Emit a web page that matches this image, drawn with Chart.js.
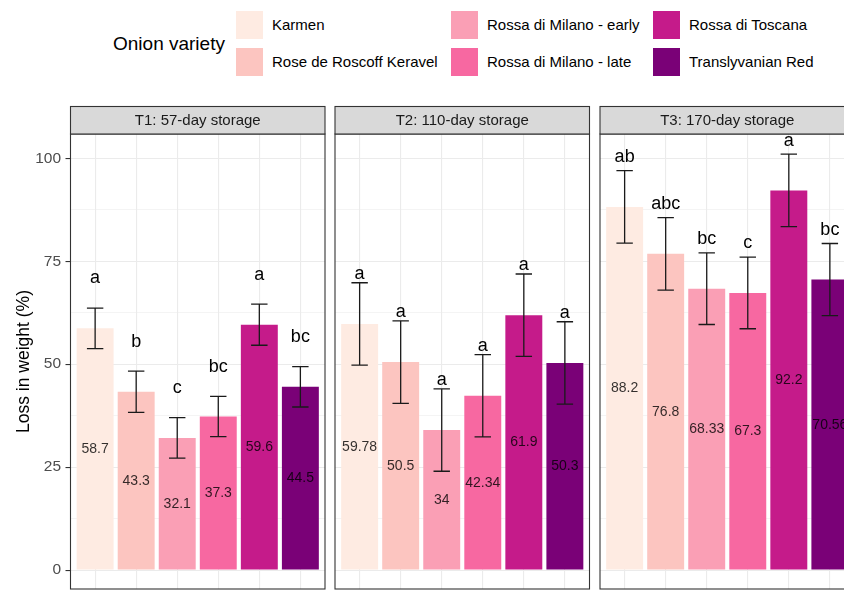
<!DOCTYPE html>
<html>
<head>
<meta charset="utf-8">
<script src="https://cdn.jsdelivr.net/npm/chart.js@4.4.1/dist/chart.umd.min.js"></script>
<style>
  html, body { margin: 0; padding: 0; width: 844px; height: 592px; overflow: hidden; background: #fff; }
  #wrap { position: relative; width: 880px; height: 592px; font-family: "Liberation Sans", Arial, sans-serif; }
  .panel { position: absolute; top: 0; }
  .legend-title { position: absolute; font-size: 19px; line-height: 22px; color: #000; white-space: nowrap; }
  .key { position: absolute; width: 27px; height: 28px; }
  .key-label { position: absolute; font-size: 15px; line-height: 18px; color: #000; white-space: nowrap; }
</style>
</head>
<body>
<div id="wrap">
  <div id="legend"></div>
  <canvas id="p1" class="panel" width="331" height="592" style="left:0px"></canvas>
  <canvas id="p2" class="panel" width="265" height="592" style="left:330px"></canvas>
  <canvas id="p3" class="panel" width="265" height="592" style="left:595px"></canvas>
</div>
<script>
// Onion varieties and their fills (RdPu)
const varieties = ['Karmen', 'Rose de Roscoff Keravel', 'Rossa di Milano - early',
                   'Rossa di Milano - late', 'Rossa di Toscana', 'Translyvanian Red'];
const fillColors = ['#FEEBE2', '#FCC5C0', '#FA9FB5', '#F768A1', '#C51B8A', '#7A0177'];

// Storage periods (one facet each)
const storageTitles = ['T1: 57-day storage', 'T2: 110-day storage', 'T3: 170-day storage'];

// Mean loss in weight (%)
const lossT1 = [58.7, 43.3, 32.1, 37.3, 59.6, 44.5];
const lossT2 = [59.78, 50.5, 34, 42.34, 61.9, 50.3];
const lossT3 = [88.2, 76.8, 68.33, 67.3, 92.2, 70.56];

// Error bar half-lengths
const errT1 = [4.9, 5.0, 4.9, 4.9, 5.0, 4.9];
const errT2 = [10.0, 10.0, 10.0, 10.0, 10.0, 10.0];
const errT3 = [8.8, 8.8, 8.7, 8.7, 8.8, 8.75];

// Significance groups
const lettersT1 = ['a', 'b', 'c', 'bc', 'a', 'bc'];
const lettersT2 = ['a', 'a', 'a', 'a', 'a', 'a'];
const lettersT3 = ['ab', 'abc', 'bc', 'c', 'a', 'bc'];

// Y axis ticks
const yMajorTicks = [0, 25, 50, 75, 100];

const FONT = '"Liberation Sans", Arial, sans-serif';
const Y_MIN = -4.6, Y_MAX = 105.9;
const STRIP_TOP = 106.5;
const LETTER_OFFSET = 10.9;
const CAP_HALF = 0.2;

const yMinorTicks = yMajorTicks.slice(1).map((v, i) => (v + yMajorTicks[i]) / 2);
const yAllTicks = yMajorTicks.concat(yMinorTicks).sort((a, b) => a - b);

const facets = [
  { id: 'p1', title: storageTitles[0], loss: lossT1, err: errT1, letters: lettersT1, yWidth: 70.5, padRight: 6, showY: true },
  { id: 'p2', title: storageTitles[1], loss: lossT2, err: errT2, letters: lettersT2, yWidth: 5, padRight: 5.5, showY: false },
  { id: 'p3', title: storageTitles[2], loss: lossT3, err: errT3, letters: lettersT3, yWidth: 5, padRight: 5.5, showY: false }
];

// Legend
(function buildLegend() {
  const lg = document.getElementById('legend');
  const t = document.createElement('div');
  t.className = 'legend-title';
  t.textContent = 'Onion variety';
  t.style.left = '113px';
  t.style.top = '33px';
  lg.appendChild(t);
  const colX = [235.5, 450.5, 652.5];
  const rowY = [10.5, 48];
  varieties.forEach((name, i) => {
    const kx = colX[Math.floor(i / 2)], ky = rowY[i % 2];
    const k = document.createElement('div');
    k.className = 'key';
    k.style.left = kx + 'px';
    k.style.top = ky + 'px';
    k.style.background = fillColors[i];
    lg.appendChild(k);
    const l = document.createElement('div');
    l.className = 'key-label';
    l.textContent = name;
    l.style.left = (kx + 36.5) + 'px';
    l.style.top = (ky + 14 - 9) + 'px';
    lg.appendChild(l);
  });
})();

function facetPlugin(f) {
  return {
    id: 'facet_' + f.id,
    afterDatasetsDraw(chart) {
      const { ctx, scales: { x, y } } = chart;
      ctx.save();
      // error bars
      ctx.strokeStyle = '#1a1a1a';
      ctx.lineWidth = 1.3;
      f.loss.forEach((v, i) => {
        const xc = x.getPixelForValue(i + 1);
        const xl = x.getPixelForValue(i + 1 - CAP_HALF);
        const xr = x.getPixelForValue(i + 1 + CAP_HALF);
        const yt = y.getPixelForValue(v + f.err[i]);
        const yb = y.getPixelForValue(v - f.err[i]);
        ctx.beginPath();
        ctx.moveTo(xl, yt); ctx.lineTo(xr, yt);
        ctx.moveTo(xc, yt); ctx.lineTo(xc, yb);
        ctx.moveTo(xl, yb); ctx.lineTo(xr, yb);
        ctx.stroke();
      });
      // mean values inside bars
      ctx.font = '14px ' + FONT;
      ctx.textAlign = 'center';
      ctx.textBaseline = 'middle';
      ctx.fillStyle = 'rgba(0,0,0,0.8)';
      f.loss.forEach((v, i) => {
        ctx.fillText(String(v), x.getPixelForValue(i + 1), y.getPixelForValue(v / 2));
      });
      // group letters
      ctx.font = '18px ' + FONT;
      ctx.textBaseline = 'alphabetic';
      ctx.fillStyle = '#000';
      f.letters.forEach((t, i) => {
        ctx.fillText(t, x.getPixelForValue(i + 1), y.getPixelForValue(f.loss[i] + LETTER_OFFSET));
      });
      ctx.restore();
    },
    afterDraw(chart) {
      const { ctx, chartArea: a } = chart;
      ctx.save();
      // panel border
      ctx.strokeStyle = '#333';
      ctx.lineWidth = 1.1;
      ctx.strokeRect(a.left, a.top, a.right - a.left, a.bottom - a.top);
      // strip
      ctx.fillStyle = '#D9D9D9';
      ctx.fillRect(a.left, STRIP_TOP, a.right - a.left, a.top - STRIP_TOP);
      ctx.strokeRect(a.left, STRIP_TOP, a.right - a.left, a.top - STRIP_TOP);
      ctx.fillStyle = '#1a1a1a';
      ctx.font = '15px ' + FONT;
      ctx.textAlign = 'center';
      ctx.textBaseline = 'middle';
      ctx.fillText(f.title, (a.left + a.right) / 2, (STRIP_TOP + a.top) / 2 + 0.5);
      ctx.restore();
    }
  };
}

facets.forEach(f => {
  new Chart(document.getElementById(f.id), {
    type: 'bar',
    data: {
      datasets: [{
        label: f.title,
        data: f.loss.map((v, i) => ({ x: i + 1, y: v })),
        backgroundColor: fillColors,
        borderWidth: 0,
        barPercentage: 0.9,
        categoryPercentage: 1.0
      }]
    },
    options: {
      responsive: false,
      animation: false,
      devicePixelRatio: 1,
      layout: { autoPadding: false, padding: { left: 0, right: f.padRight, top: 134, bottom: 3 } },
      plugins: { legend: { display: false }, tooltip: { enabled: false } },
      scales: {
        x: {
          type: 'linear',
          min: 0.4, max: 6.6,
          offset: false,
          afterBuildTicks: s => { s.ticks = varieties.map((_, i) => ({ value: i + 1 })); },
          afterFit: s => { s.height = 0; s.paddingLeft = 0; s.paddingRight = 0; },
          ticks: { display: false },
          border: { display: false },
          grid: { color: '#EBEBEB', lineWidth: 1.1, drawTicks: false, offset: false }
        },
        y: {
          min: Y_MIN, max: Y_MAX,
          afterBuildTicks: s => { s.ticks = yAllTicks.map(v => ({ value: v })); },
          afterFit: s => { s.width = f.yWidth; s.paddingTop = 0; s.paddingBottom = 0; },
          border: { display: false },
          grid: {
            color: '#EBEBEB',
            lineWidth: c => (yMajorTicks.includes(c.tick.value) ? 1.1 : 0.55),
            drawTicks: f.showY,
            tickLength: 5,
            tickColor: c => (yMajorTicks.includes(c.tick.value) ? '#333' : 'rgba(0,0,0,0)'),
            tickWidth: 1.1
          },
          ticks: {
            display: f.showY,
            padding: 4.5,
            color: '#4D4D4D',
            font: { family: FONT, size: 15.5 },
            callback: v => (yMajorTicks.includes(v) ? String(v) : '')
          },
          title: {
            display: f.showY,
            text: 'Loss in weight (%)',
            color: '#000',
            font: { family: FONT, size: 17.5 },
            padding: { top: 13.5, bottom: 0 }
          }
        }
      }
    },
    plugins: [facetPlugin(f)]
  });
});
</script>
</body>
</html>
